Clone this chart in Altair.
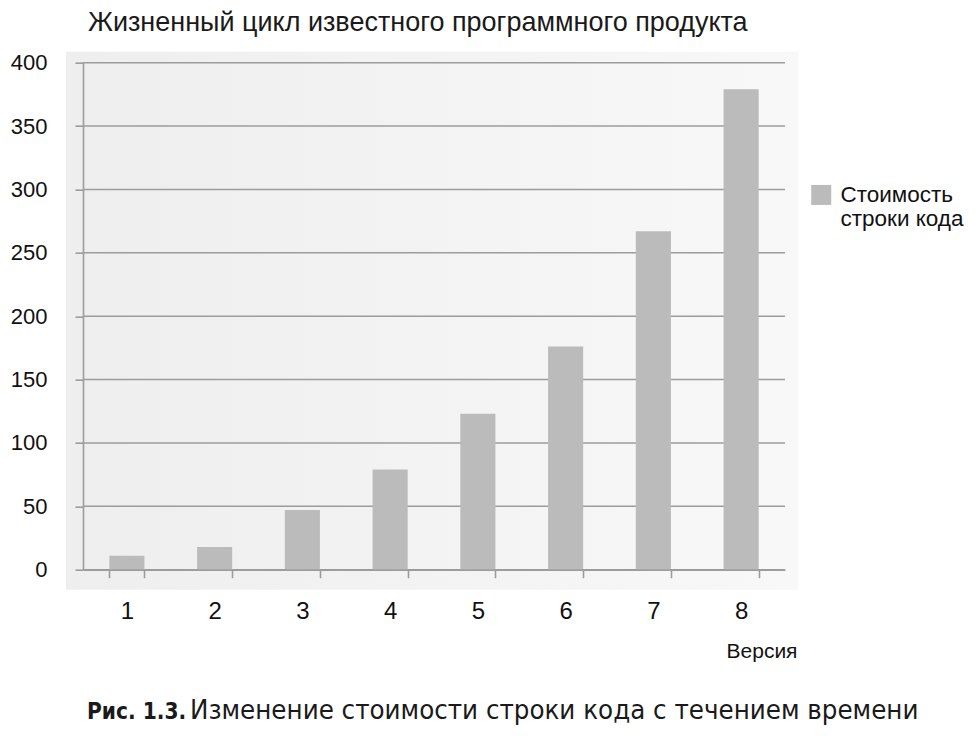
import altair as alt
import pandas as pd

# ---- data ----
versions = ["1", "2", "3", "4", "5", "6", "7", "8"]
cost = [11, 18, 47, 79, 123, 176, 267, 379]
series_name = "Стоимость\nстроки кода"
y_ticks = [0, 50, 100, 150, 200, 250, 300, 350, 400]
title_text = ["Жизненный цикл известного программного продукта"]
x_title = "Версия"
caption_bold = ["Рис. 1.3."]
caption_rest = ["Изменение стоимости строки кода с течением времени"]

W, H = 702, 507
FONT = "Liberation Sans"
GRID = "#9c9c9c"

bars_df = pd.DataFrame({"version": versions, "cost": cost, "series": [series_name] * len(versions)})
ticks_df = pd.DataFrame({"tick": y_ticks})

y_scale = alt.Scale(domain=[0, 400], nice=False)
y_axis = alt.Axis(title=None, values=y_ticks, grid=False,
                  tickSize=8, tickColor=GRID, tickWidth=1.6,
                  domainColor=GRID, domainWidth=1.6,
                  labelFont=FONT, labelFontSize=22, labelColor="#111111",
                  labelPadding=28, zindex=1)

background = alt.Chart(pd.DataFrame({"a": [0]})).mark_rect(
    color=alt.LinearGradient(
        gradient="linear", x1=0, x2=1, y1=0, y2=0,
        stops=[alt.GradientStop(color="#eeeeee", offset=0),
               alt.GradientStop(color="#f8f8f8", offset=1)]
    )
).encode(x=alt.value(-17), x2=alt.value(W + 13), y=alt.value(-11), y2=alt.value(H + 20))

gridlines = alt.Chart(ticks_df).mark_rule(color=GRID, strokeWidth=1.6).encode(
    y=alt.Y("tick:Q", scale=y_scale, axis=y_axis),
    x=alt.value(0), x2=alt.value(W)
)

bars = alt.Chart(bars_df).mark_bar(color="#bbbbbb").encode(
    x=alt.X("version:N", sort=versions,
            scale=alt.Scale(paddingInner=0.6, paddingOuter=0.3),
            axis=alt.Axis(title=x_title, labelAngle=0, tickBand="extent",
                          tickSize=8, tickColor=GRID, tickWidth=1.6,
                          domainColor=GRID, domainWidth=1.6,
                          labelFont=FONT, labelFontSize=24, labelColor="#111111",
                          labelBaseline="alphabetic", labelPadding=41,
                          titleFont=FONT, titleFontSize=21, titleFontWeight="normal",
                          titleColor="#111111", titleAlign="right", titleAnchor="end",
                          titleX=W + 12, titleY=88, titleBaseline="alphabetic",
                          zindex=1)),
    y=alt.Y("cost:Q", scale=y_scale, axis=y_axis),
    color=alt.Color("series:N", scale=alt.Scale(range=["#bbbbbb"]),
                    legend=alt.Legend(title=None, orient="none", legendX=727, legendY=121,
                                      symbolType="square", symbolSize=400, symbolStrokeWidth=0,
                                      labelFont=FONT, labelFontSize=22.5, labelColor="#111111",
                                      labelOffset=8, labelLimit=400, padding=0,
                                      labelExpr="split(datum.label, '\\n')")),
)

title = alt.Chart(pd.DataFrame({"t": title_text})).mark_text(
    font=FONT, fontSize=27, align="left", baseline="alphabetic", color="#1a1a1a"
).encode(text="t:N", x=alt.value(5), y=alt.value(-31.7))

cap1 = alt.Chart(pd.DataFrame({"t": caption_bold})).mark_text(
    font="DejaVu Sans Condensed", fontSize=22.5, fontWeight="bold",
    align="left", baseline="alphabetic", color="#1a1a1a"
).encode(text="t:N", x=alt.value(4), y=alt.value(656.3))

cap2 = alt.Chart(pd.DataFrame({"t": caption_rest})).mark_text(
    font="DejaVu Sans Condensed", fontSize=27.4, align="left",
    baseline="alphabetic", color="#1a1a1a"
).encode(text="t:N", x=alt.value(107), y=alt.value(656.3))

chart = alt.layer(background, gridlines, bars, title, cap1, cap2).properties(
    width=W, height=H,
    autosize="none",
    padding={"left": 83, "top": 62.7, "right": 194, "bottom": 169},
).configure_view(stroke=None)

chart.save("out.html", embed_options={"renderer": "svg", "actions": False})
